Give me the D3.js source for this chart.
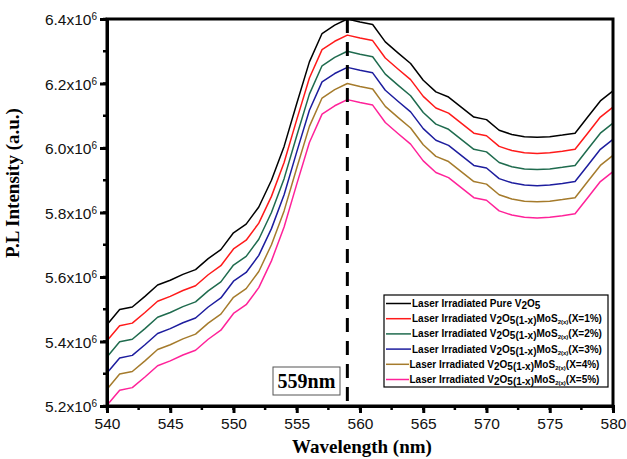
<!DOCTYPE html>
<html>
<head>
<meta charset="utf-8">
<script src="https://cdn.jsdelivr.net/npm/d3@7"></script>
<style>
  body { margin: 0; background: #fff; }
  svg { display: block; }
</style>
</head>
<body>
<div id="chart"></div>
<script>
// wavelength (nm), one reading per nm
var wavelengths = d3.range(540, 581);

// PL intensity in units of 1e6
var pure = [5.452, 5.499, 5.507, 5.540, 5.575, 5.590, 5.608, 5.623, 5.657, 5.685, 5.737, 5.764, 5.817, 5.900, 6.005, 6.138, 6.267, 6.355, 6.381, 6.400, 6.391, 6.383, 6.329, 6.295, 6.262, 6.210, 6.174, 6.158, 6.127, 6.096, 6.088, 6.055, 6.042, 6.035, 6.033, 6.035, 6.040, 6.046, 6.096, 6.146, 6.177];
var x1 = [5.402, 5.449, 5.457, 5.490, 5.525, 5.540, 5.558, 5.573, 5.607, 5.635, 5.687, 5.714, 5.767, 5.850, 5.955, 6.088, 6.217, 6.305, 6.331, 6.350, 6.341, 6.333, 6.279, 6.245, 6.212, 6.160, 6.124, 6.108, 6.077, 6.046, 6.038, 6.005, 5.992, 5.985, 5.983, 5.985, 5.990, 5.996, 6.046, 6.096, 6.127];
var x2 = [5.352, 5.399, 5.407, 5.440, 5.475, 5.490, 5.508, 5.523, 5.557, 5.585, 5.637, 5.664, 5.717, 5.800, 5.905, 6.038, 6.167, 6.255, 6.281, 6.300, 6.291, 6.283, 6.229, 6.195, 6.162, 6.110, 6.074, 6.058, 6.027, 5.996, 5.988, 5.955, 5.942, 5.935, 5.933, 5.935, 5.940, 5.946, 5.996, 6.046, 6.077];
var x3 = [5.302, 5.349, 5.357, 5.390, 5.425, 5.440, 5.458, 5.473, 5.507, 5.535, 5.587, 5.614, 5.667, 5.750, 5.855, 5.988, 6.117, 6.205, 6.231, 6.250, 6.241, 6.233, 6.179, 6.145, 6.112, 6.060, 6.024, 6.008, 5.977, 5.946, 5.938, 5.905, 5.892, 5.885, 5.883, 5.885, 5.890, 5.896, 5.946, 5.996, 6.027];
var x4 = [5.252, 5.299, 5.307, 5.340, 5.375, 5.390, 5.408, 5.423, 5.457, 5.485, 5.537, 5.564, 5.617, 5.700, 5.805, 5.938, 6.067, 6.155, 6.181, 6.200, 6.191, 6.183, 6.129, 6.095, 6.062, 6.010, 5.974, 5.958, 5.927, 5.896, 5.888, 5.855, 5.842, 5.835, 5.833, 5.835, 5.840, 5.846, 5.896, 5.946, 5.977];
var x5 = [5.202, 5.249, 5.257, 5.290, 5.325, 5.340, 5.358, 5.373, 5.407, 5.435, 5.487, 5.514, 5.567, 5.650, 5.755, 5.888, 6.017, 6.105, 6.131, 6.150, 6.141, 6.133, 6.079, 6.045, 6.012, 5.960, 5.924, 5.908, 5.877, 5.846, 5.838, 5.805, 5.792, 5.785, 5.783, 5.785, 5.790, 5.796, 5.846, 5.896, 5.927];

var seriesValues = [pure, x1, x2, x3, x4, x5];
var seriesNames = ["Pure", "X=1%", "X=2%", "X=3%", "X=4%", "X=5%"];
var colors = ["#000000", "#ff1a1a", "#1f6b4e", "#1d1d9e", "#a57b2c", "#ff2299"];

var yTicks = [5.2, 5.4, 5.6, 5.8, 6.0, 6.2, 6.4];
var xTicks = [540, 545, 550, 555, 560, 565, 570, 575, 580];
var peakNm = 559;

var width = 627;
var height = 459;
var margin = {left: 107, right: 14, top: 19, bottom: 53};

var svg = d3.select("#chart").append("svg")
    .attr("width", width)
    .attr("height", height);

var x = d3.scaleLinear().domain([540, 580]).range([margin.left, width - margin.right]);
var y = d3.scaleLinear().domain([5.2, 6.4]).range([height - margin.bottom, margin.top]);

// curves
var line = d3.line()
    .x(function (d, i) { return x(wavelengths[i]); })
    .y(function (d) { return y(d); });

svg.selectAll("path.curve")
    .data(seriesValues).enter().append("path")
    .attr("class", "curve")
    .attr("d", line)
    .style("fill", "none")
    .style("stroke", function (d, i) { return colors[i]; })
    .style("stroke-width", "1.5px")
    .style("stroke-linejoin", "round");

// dashed marker at the peak
svg.append("line")
    .attr("x1", x(peakNm)).attr("x2", x(peakNm))
    .attr("y1", y(6.4)).attr("y2", y(5.2))
    .style("stroke", "#000").style("stroke-width", "3px")
    .style("stroke-dasharray", "14,9");

// minor ticks
var minorX = d3.range(540, 580.1, 2.5);
svg.selectAll("line.minorx")
    .data(minorX).enter().append("line")
    .attr("x1", x).attr("x2", x)
    .attr("y1", y(5.2)).attr("y2", y(5.2) + 4)
    .style("stroke", "#000").style("stroke-width", "2.5px");
var minorY = d3.range(5.2, 6.41, 0.1);
svg.selectAll("line.minory")
    .data(minorY).enter().append("line")
    .attr("y1", y).attr("y2", y)
    .attr("x1", x(540)).attr("x2", x(540) - 4)
    .style("stroke", "#000").style("stroke-width", "2.5px");

// axes
var xAxis = svg.append("g")
    .attr("transform", "translate(0," + y(5.2) + ")")
    .call(d3.axisBottom(x).tickValues(xTicks).tickSize(7).tickPadding(5).tickFormat(d3.format("d")));
xAxis.selectAll("text")
    .attr("font-family", "Liberation Sans, Arial, sans-serif")
    .attr("font-size", "15.5px").attr("fill", "#111");

var yAxis = svg.append("g")
    .attr("transform", "translate(" + x(540) + ",0)")
    .call(d3.axisLeft(y).tickValues(yTicks).tickSize(7).tickPadding(4).tickFormat(""));
yAxis.selectAll(".tick").append("text")
    .attr("x", -10).attr("dy", "0.36em")
    .attr("text-anchor", "end")
    .attr("font-family", "Liberation Sans, Arial, sans-serif")
    .attr("font-size", "15.5px").attr("fill", "#111")
    .each(function (d) {
        var t = d3.select(this);
        t.append("tspan").text(d.toFixed(1) + "x10");
        t.append("tspan").attr("dy", "-0.5em").attr("font-size", "10px").text("6");
    });

svg.selectAll(".domain").style("stroke-width", "3px");
svg.selectAll(".tick line").style("stroke-width", "3px");

// frame
svg.append("rect")
    .attr("x", x(540)).attr("y", y(6.4))
    .attr("width", x(580) - x(540)).attr("height", y(5.2) - y(6.4))
    .style("fill", "none").style("stroke", "#000").style("stroke-width", "3px");

// axis titles
svg.append("text")
    .attr("x", (x(540) + x(580)) / 2 + 2).attr("y", 453)
    .attr("text-anchor", "middle")
    .attr("font-family", "Liberation Serif, Times New Roman, serif")
    .attr("font-weight", "bold").attr("font-size", "19px")
    .text("Wavelength (nm)");

svg.append("text")
    .attr("transform", "translate(19,183) rotate(-90)")
    .attr("text-anchor", "middle")
    .attr("font-family", "Liberation Serif, Times New Roman, serif")
    .attr("font-weight", "bold").attr("font-size", "19px")
    .text("P.L Intensity (a.u.)");

// 559nm label
svg.append("rect")
    .attr("x", 273).attr("y", 367).attr("width", 67).attr("height", 28)
    .style("fill", "#fff").style("stroke", "#555").style("stroke-width", "1px");
svg.append("text")
    .attr("x", 306.5).attr("y", 388)
    .attr("text-anchor", "middle")
    .attr("font-family", "Liberation Serif, Times New Roman, serif")
    .attr("font-weight", "bold").attr("font-size", "20px")
    .text(peakNm + "nm");

// legend
var legend = svg.append("g");
legend.append("rect")
    .attr("x", 384).attr("y", 295).attr("width", 224).attr("height", 92)
    .style("fill", "#fff").style("stroke", "#000").style("stroke-width", "1.2px");

var rows = legend.selectAll("g.row")
    .data(seriesNames).enter().append("g")
    .attr("class", "row")
    .attr("transform", function (d, i) { return "translate(0," + (303.5 + i * 15.2) + ")"; });

rows.append("line")
    .attr("x1", 386).attr("x2", function (d, i) { return i < 4 ? 411 : 409; })
    .attr("y1", 0).attr("y2", 0)
    .style("stroke", function (d, i) { return colors[i]; })
    .style("stroke-width", "1.5px");

rows.append("text")
    .attr("x", function (d, i) { return i < 4 ? 412 : 409.5; }).attr("y", 3.5)
    .attr("font-family", "Liberation Sans, Arial, sans-serif")
    .attr("font-weight", "bold").attr("font-size", "10px")
    .each(function (d) {
        var t = d3.select(this);
        if (d == "Pure") {
            t.append("tspan").text("Laser Irradiated Pure V");
            t.append("tspan").attr("dy", 2).text("2");
            t.append("tspan").attr("dy", -2).text("O");
            t.append("tspan").attr("dy", 2).text("5");
        } else {
            t.append("tspan").text("Laser Irradiated V");
            t.append("tspan").attr("dy", 2).text("2");
            t.append("tspan").attr("dy", -2).text("O");
            t.append("tspan").attr("dy", 2).text("5(1-x)");
            t.append("tspan").attr("dy", -2).text("MoS");
            t.append("tspan").attr("dy", 2).attr("font-size", "6px").text("2(x)");
            t.append("tspan").attr("dy", -2).text("(" + d + ")");
        }
    });
</script>
</body>
</html>
